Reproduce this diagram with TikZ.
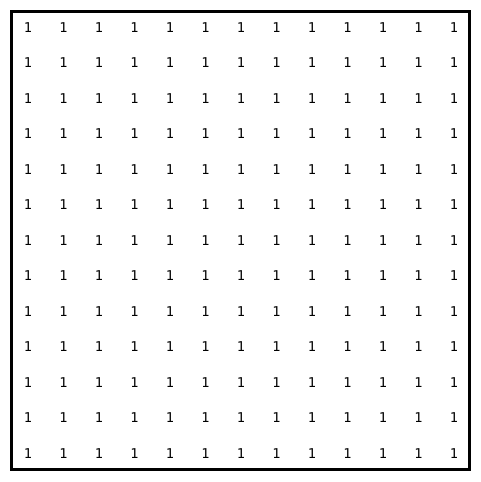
\documentclass[tikz,border=0pt]{standalone}
\usepackage{fontspec}
\setmonofont{DejaVu Sans Mono}
\usepackage{tikz}

\begin{document}
\begin{tikzpicture}[x=1pt,y=-1pt,
    cell/.style={font=\ttfamily\fontsize{13.5}{15}\selectfont,inner sep=0pt,anchor=center},
    frame/.style={draw=black,line width=2.6pt}]
  \useasboundingbox (0,0) rectangle (481,482);
  \draw[frame] (11.5,11.5) rectangle (469.5,469.5);
  % grid of ones
  \foreach \r in {0,...,12}{
    \foreach \c in {0,...,12}{
      \node[cell] (n-\r-\c) at ({28+35.5*\c},{27.5+35.5*\r}) {1};
    }
  }
\end{tikzpicture}
\end{document}
